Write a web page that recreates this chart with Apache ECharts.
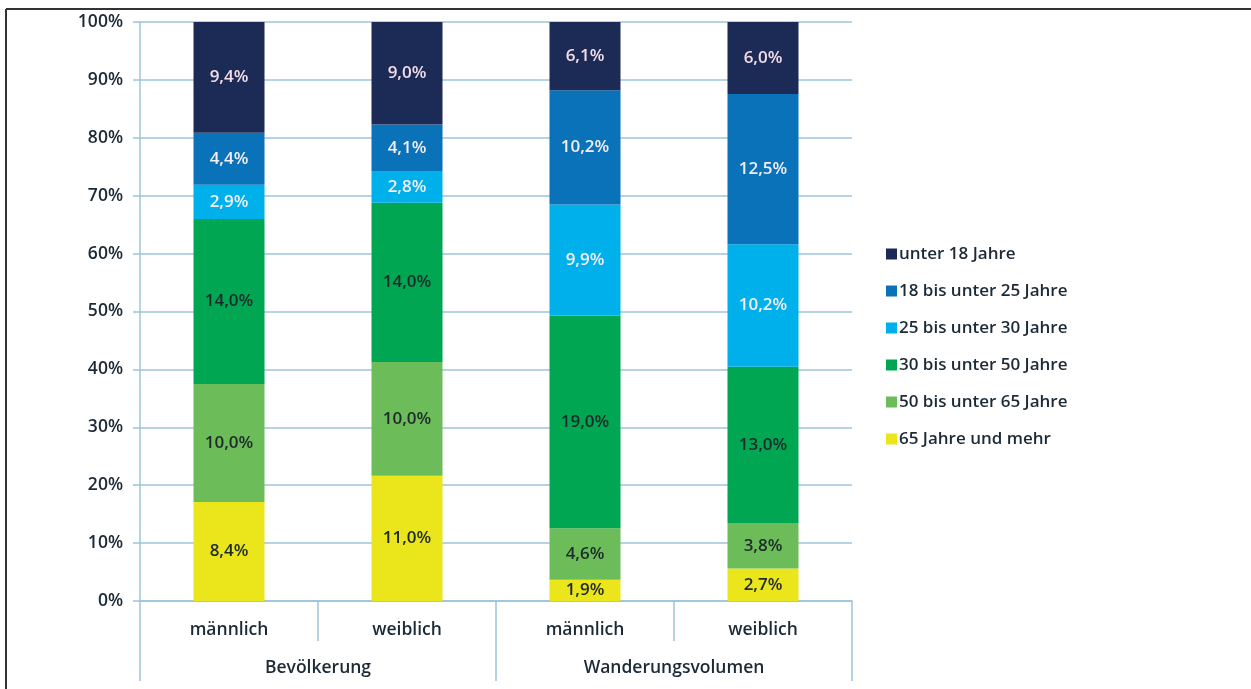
<!DOCTYPE html>
<html>
<head>
<meta charset="utf-8">
<script src="https://cdn.jsdelivr.net/npm/echarts@6/dist/echarts.min.js"></script>
<style>
html,body{margin:0;padding:0;background:#fff;}
#chart{width:1251px;height:689px;}
</style>
</head>
<body>
<div id="chart"></div>
<script>
// Data (labels are shares; bars are stacked to 100%)
const categories = ['männlich', 'weiblich', 'männlich', 'weiblich'];
const groups = ['Bevölkerung', 'Wanderungsvolumen'];
const seriesNames = ['65 Jahre und mehr', '50 bis unter 65 Jahre', '30 bis unter 50 Jahre', '25 bis unter 30 Jahre', '18 bis unter 25 Jahre', 'unter 18 Jahre'];
const age65plus = [8.4, 11.0, 1.9, 2.7];
const age50to65 = [10.0, 10.0, 4.6, 3.8];
const age30to50 = [14.0, 14.0, 19.0, 13.0];
const age25to30 = [2.9, 2.8, 9.9, 10.2];
const age18to25 = [4.4, 4.1, 10.2, 12.5];
const ageUnder18 = [9.4, 9.0, 6.1, 6.0];
const yTicks = ['0%', '10%', '20%', '30%', '40%', '50%', '60%', '70%', '80%', '90%', '100%'];

const raw = [age65plus, age50to65, age30to50, age25to30, age18to25, ageUnder18];
const colors = ['#ebe51c', '#6cbd5a', '#00a651', '#00b0ea', '#0a72b8', '#1c2b56'];
const labelColors = ['#1e2a2a', '#1e2a2a', '#1e2a2a', '#f4eef4', '#f4eef4', '#f2dde8'];
const totals = categories.map((c, i) => raw.reduce((s, arr) => s + arr[i], 0));

const fontFamily = '"Open Sans", "Noto Sans", sans-serif';
const gridColor = '#9cc4da';
const textColor = '#1b2a36';

const series = seriesNames.map((name, k) => ({
  name: name,
  type: 'bar',
  stack: 'total',
  barWidth: 71,
  itemStyle: { color: colors[k] },
  label: {
    show: true,
    position: 'inside',
    fontFamily: fontFamily,
    fontSize: 17,
    fontWeight: 600,
    color: labelColors[k],
    formatter: p => raw[k][p.dataIndex].toFixed(1).replace('.', ',') + '%'
  },
  data: raw[k].map((v, i) => v / totals[i] * 100)
}));

const chart = echarts.init(document.getElementById('chart'), null, { renderer: 'canvas' });
chart.setOption({
  backgroundColor: '#ffffff',
  animation: false,
  grid: { left: 140, right: 399, top: 22, bottom: 88, containLabel: false },
  legend: {
    orient: 'vertical',
    left: 881,
    top: 237,
    itemWidth: 11,
    itemHeight: 11,
    itemGap: 13,
    icon: 'rect',
    data: seriesNames.slice().reverse(),
    textStyle: { fontFamily: fontFamily, fontSize: 17, fontWeight: 600, color: textColor, padding: [0, 0, 0, -3], lineHeight: 24 }
  },
  xAxis: [
    {
      type: 'category',
      data: categories,
      position: 'bottom',
      axisLine: { show: true, lineStyle: { color: gridColor, width: 1.5 } },
      axisTick: { show: true, length: 40, lineStyle: { color: gridColor, width: 1.5 } },
      axisLabel: { margin: 20, fontFamily: fontFamily, fontSize: 17.5, fontWeight: 600, color: textColor }
    },
    {
      type: 'category',
      data: groups,
      position: 'bottom',
      offset: 0,
      axisLine: { show: false },
      axisTick: { show: true, length: 80, lineStyle: { color: gridColor, width: 1.5 } },
      axisLabel: { margin: 58, fontFamily: fontFamily, fontSize: 17.5, fontWeight: 600, color: textColor }
    }
  ],
  yAxis: {
    type: 'value',
    min: 0,
    max: 100,
    interval: 10,
    axisLine: { show: true, lineStyle: { color: gridColor, width: 1.5 } },
    axisTick: { show: true, length: 7, lineStyle: { color: gridColor, width: 1.5 } },
    splitLine: { show: true, lineStyle: { color: gridColor, width: 1.5 } },
    axisLabel: {
      margin: 17,
      fontFamily: fontFamily,
      fontSize: 17.5,
      fontWeight: 600,
      color: textColor,
      formatter: v => yTicks[Math.round(v / 10)]
    }
  },
  series: series,
  graphic: [
    { type: 'line', shape: { x1: 6, y1: 9, x2: 1251, y2: 9 }, style: { stroke: '#333', lineWidth: 2 } },
    { type: 'line', shape: { x1: 6, y1: 9, x2: 6, y2: 689 }, style: { stroke: '#333', lineWidth: 2 } }
  ]
});
</script>
</body>
</html>
